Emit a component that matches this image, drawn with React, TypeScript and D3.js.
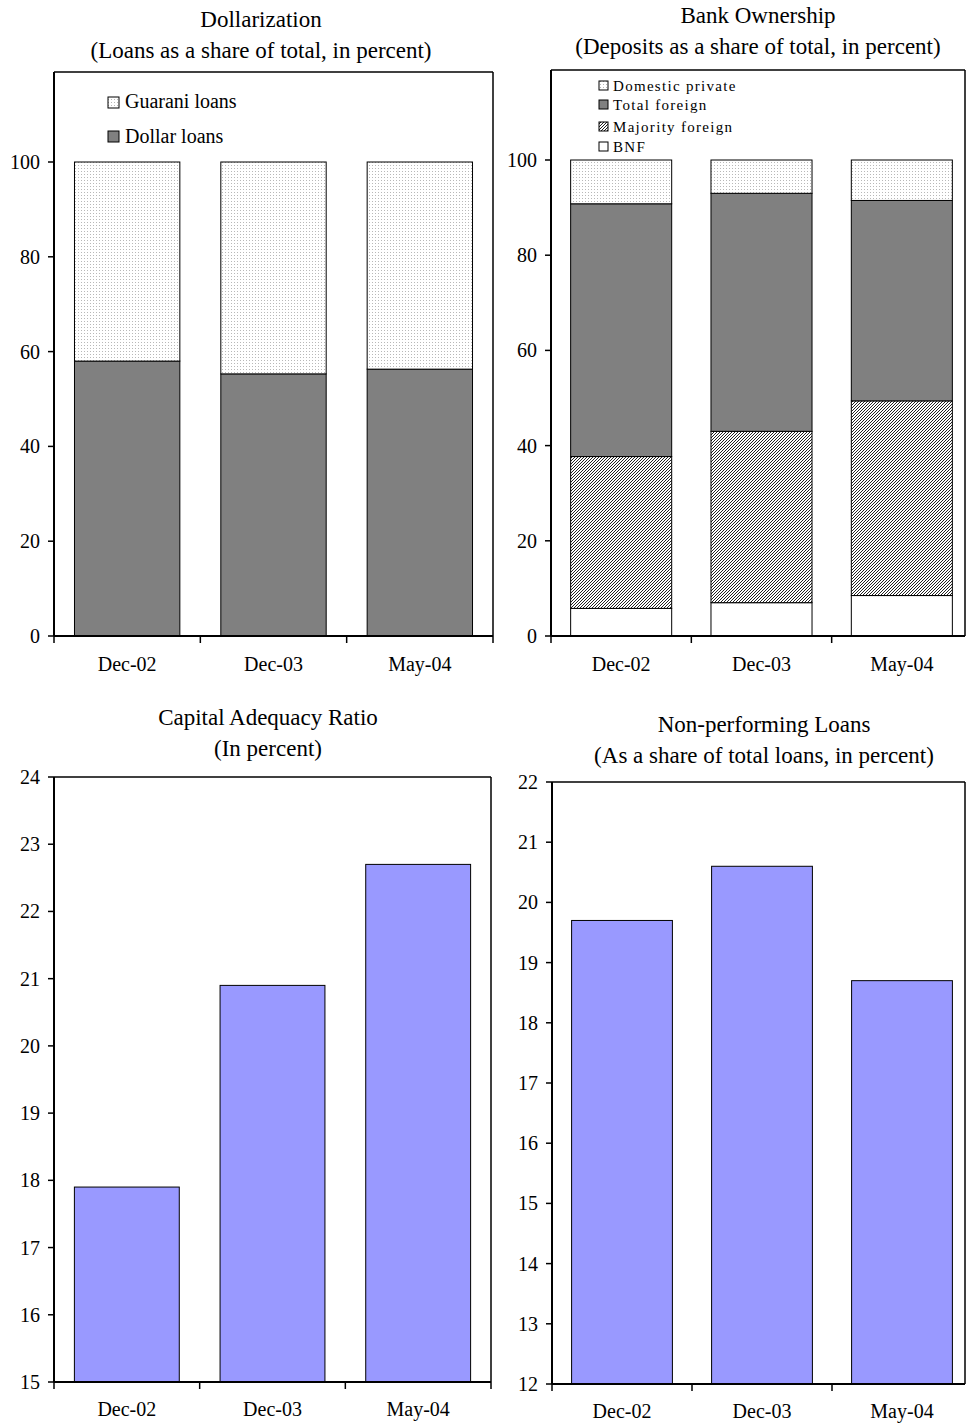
import React from "react";
import * as d3 from "d3";

const categories = ["Dec-02", "Dec-03", "May-04"];

// Dollarization (percent of total loans)
const dollarLoans = [58.0, 55.3, 56.3];
const guaraniLoans = [42.0, 44.7, 43.7];
const dollarTicks = [0, 20, 40, 60, 80, 100];

// Bank ownership (percent of deposits), stacked segments bottom -> top
const bnf = [5.8, 7.0, 8.5];
const majorityForeign = [31.9, 36.0, 40.9];
const totalForeign = [53.1, 50.0, 42.1];
const domesticPrivate = [9.2, 7.0, 8.5];
const ownershipTicks = [0, 20, 40, 60, 80, 100];

// Capital adequacy ratio (percent)
const car = [17.9, 20.9, 22.7];
const carTicks = [15, 16, 17, 18, 19, 20, 21, 22, 23, 24];

// Non-performing loans (percent of total loans)
const npl = [19.7, 20.6, 18.7];
const nplTicks = [12, 13, 14, 15, 16, 17, 18, 19, 20, 21, 22];

const FONT = "'Liberation Serif', 'Times New Roman', serif";
const GRAY = "#808080";
const BLUE = "#9999FF";

type Seg = { values: number[]; fill: string };

function Panel(props: {
  left: number; right: number; top: number; bottom: number;
  xRight: number; frameRight: number;
  domain: [number, number]; rangeTop: number; ticks: number[];
  segs: Seg[]; title: string; subtitle: string; titleX: number; titleY: number;
  catY: number;
}) {
  const { left, top, bottom, xRight, frameRight, domain, rangeTop, ticks, segs } = props;
  const y = d3.scaleLinear().domain(domain).range([bottom, rangeTop]);
  const x = d3.scaleBand<string>().domain(categories).range([left, xRight]).paddingInner(0.28).paddingOuter(0.14);
  const step = x.step();
  const rects: JSX.Element[] = [];
  categories.forEach((c, i) => {
    let base = domain[0];
    segs.forEach((s, j) => {
      const v0 = base;
      const v1 = base + s.values[i];
      base = v1;
      rects.push(
        <rect key={`${c}-${j}`} x={x(c)} y={y(v1)} width={x.bandwidth()} height={y(v0) - y(v1)}
          fill={s.fill} stroke="#000" strokeWidth={1} />
      );
    });
  });
  return (
    <g>
      <text x={props.titleX} y={props.titleY} textAnchor="middle" fontSize={23} fontFamily={FONT}>{props.title}</text>
      <text x={props.titleX} y={props.titleY + 31} textAnchor="middle" fontSize={23} fontFamily={FONT}>{props.subtitle}</text>
      {rects}
      {/* frame */}
      <line x1={left} x2={frameRight} y1={top} y2={top} stroke="#000" strokeWidth={1.5} />
      <line x1={frameRight} x2={frameRight} y1={top} y2={bottom} stroke="#000" strokeWidth={1.5} />
      <line x1={left} x2={left} y1={top} y2={bottom} stroke="#000" strokeWidth={2} />
      <line x1={left} x2={frameRight} y1={bottom} y2={bottom} stroke="#000" strokeWidth={2} />
      {ticks.map((t) => (
        <g key={t}>
          <line x1={left - 6} x2={left} y1={y(t)} y2={y(t)} stroke="#000" strokeWidth={1.5} />
          <text x={left - 14} y={y(t)} dy="0.35em" textAnchor="end" fontSize={20} fontFamily={FONT}>{t}</text>
        </g>
      ))}
      {[0, 1, 2, 3].map((k) => (
        <line key={k} x1={left + k * step} x2={left + k * step} y1={bottom} y2={bottom + 7} stroke="#000" strokeWidth={1.5} />
      ))}
      {categories.map((c) => (
        <text key={c} x={(x(c) as number) + x.bandwidth() / 2} y={props.catY} textAnchor="middle" fontSize={20} fontFamily={FONT}>{c}</text>
      ))}
    </g>
  );
}

export default function App() {
  return (
    <svg width={966} height={1425} style={{ position: "absolute", left: 0, top: 0, background: "#fff" }}>
      <defs>
        <pattern id="dots" width={3} height={3} patternUnits="userSpaceOnUse">
          <rect width={3} height={3} fill="#fff" />
          <rect width={1} height={1} fill="#b8b8b8" />
        </pattern>
        <pattern id="hatch" width={3} height={3} patternUnits="userSpaceOnUse">
          <rect width={3} height={3} fill="#fff" />
          <path d="M-1,1 L1,-1 M0,3 L3,0 M2,4 L4,2" stroke="#222" strokeWidth={1} />
        </pattern>
      </defs>
      <rect width={966} height={1425} fill="#fff" />

      <Panel left={54} right={493} top={72} bottom={636} xRight={493} frameRight={493}
        domain={[0, 100]} rangeTop={162} ticks={dollarTicks}
        segs={[{ values: dollarLoans, fill: GRAY }, { values: guaraniLoans, fill: "url(#dots)" }]}
        title="Dollarization" subtitle="(Loans as a share of total, in percent)" titleX={261} titleY={27} catY={671} />

      <Panel left={551} right={966} top={70} bottom={636} xRight={972} frameRight={965}
        domain={[0, 100]} rangeTop={160} ticks={ownershipTicks}
        segs={[
          { values: bnf, fill: "#fff" },
          { values: majorityForeign, fill: "url(#hatch)" },
          { values: totalForeign, fill: GRAY },
          { values: domesticPrivate, fill: "url(#dots)" },
        ]}
        title="Bank Ownership" subtitle="(Deposits as a share of total, in percent)" titleX={758} titleY={23} catY={671} />

      <Panel left={54} right={491} top={777} bottom={1382} xRight={491} frameRight={491}
        domain={[15, 24]} rangeTop={777} ticks={carTicks}
        segs={[{ values: car.map((v) => v - 15), fill: BLUE }]}
        title="Capital Adequacy Ratio" subtitle="(In percent)" titleX={268} titleY={725} catY={1416} />

      <Panel left={552} right={966} top={782} bottom={1384} xRight={972} frameRight={965}
        domain={[12, 22]} rangeTop={782} ticks={nplTicks}
        segs={[{ values: npl.map((v) => v - 12), fill: BLUE }]}
        title="Non-performing Loans" subtitle="(As a share of total loans, in percent)" titleX={764} titleY={732} catY={1418} />

      {/* Legend: Dollarization */}
      <rect x={108} y={97} width={11} height={11} fill="url(#dots)" stroke="#000" strokeWidth={1} />
      <text x={125} y={108} fontSize={20} fontFamily={FONT}>Guarani loans</text>
      <rect x={108} y={131} width={11} height={11} fill={GRAY} stroke="#000" strokeWidth={1} />
      <text x={125} y={143} fontSize={20} fontFamily={FONT}>Dollar loans</text>

      {/* Legend: Bank ownership */}
      {[
        { label: "Domestic private", fill: "url(#dots)", y: 81 },
        { label: "Total foreign", fill: GRAY, y: 100 },
        { label: "Majority foreign", fill: "url(#hatch)", y: 122 },
        { label: "BNF", fill: "#fff", y: 142 },
      ].map((l) => (
        <g key={l.label}>
          <rect x={599} y={l.y} width={9} height={9} fill={l.fill} stroke="#000" strokeWidth={1} />
          <text x={613} y={l.y + 10} fontSize={15} fontFamily={FONT} letterSpacing={1.3}>{l.label}</text>
        </g>
      ))}
    </svg>
  );
}
